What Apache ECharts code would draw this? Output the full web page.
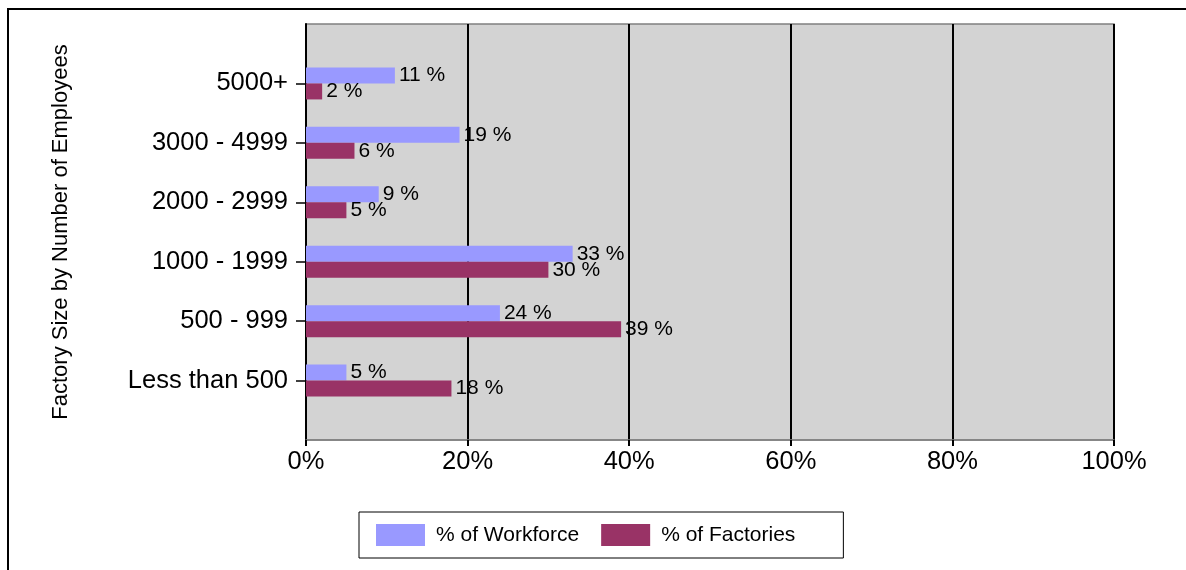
<!DOCTYPE html>
<html>
<head>
<meta charset="utf-8">
<script src="https://cdn.jsdelivr.net/npm/echarts@6/dist/echarts.min.js"></script>
<style>
html,body{margin:0;padding:0;background:#fff;}
#chart{width:1186px;height:570px;}
</style>
</head>
<body>
<div id="chart"></div>
<script>
// Data (bottom to top, as drawn on the category axis)
var categories = ['Less than 500', '500 - 999', '1000 - 1999', '2000 - 2999', '3000 - 4999', '5000+'];
var workforce = [5, 24, 33, 9, 19, 11];
var factories = [18, 39, 30, 5, 6, 2];
var xTicks = [0, 20, 40, 60, 80, 100];
var seriesNames = ['% of Workforce', '% of Factories'];
var axisTitle = 'Factory Size by Number of Employees';

// half-band padding at both ends of the category axis
var cats = [''].concat(categories, ['']);
var wf = [null].concat(workforce, [null]);
var fc = [null].concat(factories, [null]);

var chart = echarts.init(document.getElementById('chart'), null, {renderer: 'canvas'});
var font = 'Liberation Sans, Arial, sans-serif';
chart.setOption({
  animation: false,
  textStyle: {fontFamily: font},
  graphic: [{
    type: 'rect', silent: true, z: 100,
    shape: {x: 8, y: 9, width: 1200, height: 600},
    style: {fill: null, stroke: '#000', lineWidth: 2}
  }],
  grid: {
    left: 306, right: 72, top: 24, bottom: 130,
    show: true, backgroundColor: '#D3D3D3', borderColor: '#808080', borderWidth: 1.5
  },
  legend: {
    left: 359, top: 512,
    padding: [12, 48, 12, 17],
    borderColor: '#000', borderWidth: 1,
    itemWidth: 49, itemHeight: 22, itemGap: 22,
    icon: 'rect',
    data: seriesNames,
    textStyle: {fontSize: 21, color: '#000', fontFamily: font, padding: [0, 0, 0, 6]}
  },
  xAxis: {
    type: 'value', min: xTicks[0], max: xTicks[xTicks.length - 1], interval: 20,
    axisLine: {show: true, lineStyle: {color: '#808080', width: 1.5}},
    axisTick: {show: true, length: 6, lineStyle: {color: '#000', width: 2}},
    splitLine: {show: true, lineStyle: {color: '#000', width: 2}},
    axisLabel: {formatter: '{value}%', fontSize: 25.5, color: '#000', margin: 9, fontFamily: font}
  },
  yAxis: {
    type: 'category', data: cats, boundaryGap: false,
    name: axisTitle, nameLocation: 'middle', nameRotate: 90, nameGap: 234,
    nameTextStyle: {fontSize: 22, color: '#000', fontFamily: font},
    axisLine: {show: true, lineStyle: {color: '#000', width: 2}},
    axisTick: {show: true, length: 10, lineStyle: {color: '#000', width: 1.5},
      interval: function (i, v) { return v !== ''; }},
    axisLabel: {fontSize: 25.5, color: '#000', margin: 18, fontFamily: font,
      interval: function (i, v) { return v !== ''; }},
    splitLine: {show: false}
  },
  series: [{
    name: seriesNames[0], type: 'bar', data: wf, barWidth: 16, barGap: '0%',
    itemStyle: {color: '#9999FF'},
    label: {show: true, position: 'right', distance: 4, formatter: '{c} %', fontSize: 21, color: '#000', fontFamily: font}
  }, {
    name: seriesNames[1], type: 'bar', data: fc, barWidth: 16, barGap: '0%',
    itemStyle: {color: '#993366'},
    label: {show: true, position: 'right', distance: 4, formatter: '{c} %', fontSize: 21, color: '#000', fontFamily: font}
  }]
});
</script>
</body>
</html>
